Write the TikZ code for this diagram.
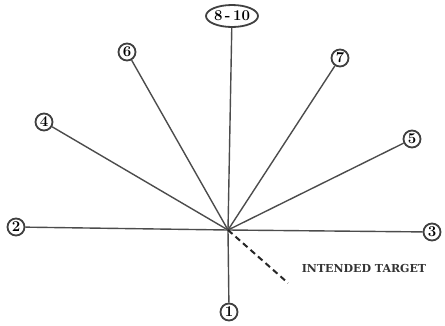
\documentclass[tikz,border=0pt]{standalone}
\usepackage{fontspec}
\newfontfamily\labelfont{DejaVu Serif}
\usetikzlibrary{shapes.geometric}
\begin{document}
\begin{tikzpicture}[x=1pt,y=-1pt,
  num/.style={circle,draw=black!75,line width=1.8pt,minimum size=17pt,inner sep=0pt,
    font=\bfseries\fontsize{15}{15}\selectfont,fill=white},
  numel/.style={ellipse,draw=black!75,line width=1.8pt,minimum height=22pt,minimum width=52pt,inner sep=0pt,
    font=\bfseries\fontsize{15}{15}\selectfont,fill=white},
  ray/.style={draw=black!70,line width=1.4pt},
  target/.style={draw=black!85,line width=2pt,dash pattern=on 6pt off 4pt}]
\useasboundingbox (0,0) rectangle (445,325);
\coordinate (c) at (228,230);
\coordinate (t) at (288,283);
\node[num] (n1) at (229,312) {1};
\node[num] (n2) at (16,227) {2};
\node[num] (n3) at (432,232) {3};
\node[num] (n4) at (44,122) {4};
\node[num] (n5) at (412,139) {5};
\node[num] (n6) at (127,52) {6};
\node[num] (n7) at (340,58) {7};
\node[numel] (n8) at (232,16) {8\,-\,10};
\foreach \n in {n1,n2,n3,n4,n5,n6,n7,n8} \draw[ray] (c) -- (\n);
\draw[target] (c) -- (t);
\node[font=\labelfont\bfseries\fontsize{11}{12}\selectfont,text=black!80,anchor=center] (lbl) at (364,268) {INTENDED TARGET};
\end{tikzpicture}
\end{document}
